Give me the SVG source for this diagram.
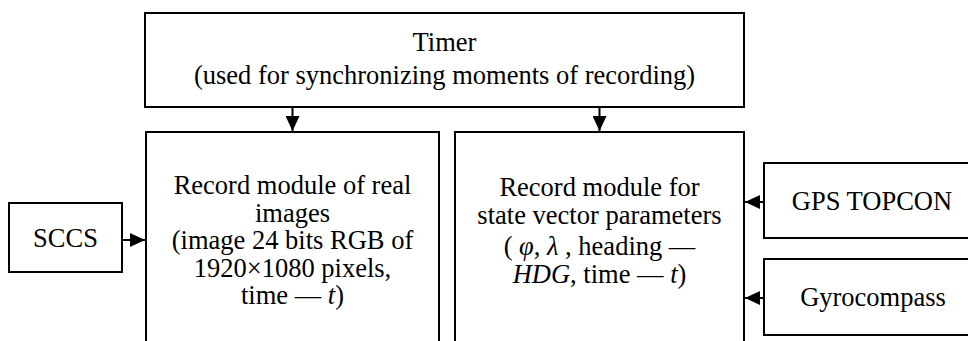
<svg xmlns="http://www.w3.org/2000/svg" width="968" height="341" viewBox="0 0 968 341">
<defs>
<style>
.box{fill:#fff;stroke:#000;stroke-width:2}
.t{font-family:"Liberation Serif","Times New Roman",serif;font-size:26.5px;fill:#000;text-anchor:middle}
.i{font-style:italic}
.ln{stroke:#000;stroke-width:2;fill:none}
</style>
<marker id="ah" viewBox="0 0 10 10" refX="10" refY="5" markerWidth="15" markerHeight="14" markerUnits="userSpaceOnUse" orient="auto" preserveAspectRatio="none">
<path d="M0,0 L10,5 L0,10 Z" fill="#000"/>
</marker>
</defs>
<rect width="968" height="341" fill="#fff"/>
<g id="timer">
<rect class="box" x="145" y="13" width="599" height="94"/>
<text class="t" x="444.5" y="51">Timer</text>
<text class="t" x="444.5" y="84">(used for synchronizing moments of recording)</text>
</g>
<g id="record-images">
<rect class="box" x="146" y="132" width="293" height="230"/>
<text class="t" x="292.5" y="194">Record module of real</text>
<text class="t" x="292.5" y="221.5">images</text>
<text class="t" x="292.5" y="249">(image 24 bits RGB of</text>
<text class="t" x="292.5" y="276.5">1920×1080 pixels,</text>
<text class="t" x="292.5" y="304">time — <tspan class="i">t</tspan>)</text>
</g>
<g id="record-state">
<rect class="box" x="455" y="132" width="289" height="230"/>
<text class="t" x="599.5" y="196">Record module for</text>
<text class="t" x="599.5" y="224">state vector parameters</text>
<text class="t" x="599.5" y="255">( <tspan class="i">φ</tspan>, <tspan class="i">λ</tspan> , heading —</text>
<text class="t" x="599.5" y="283"><tspan class="i">HDG</tspan>, time — <tspan class="i">t</tspan>)</text>
</g>
<g id="sccs">
<rect class="box" x="9" y="203" width="113" height="69"/>
<text class="t" x="65.5" y="247">SCCS</text>
</g>
<g id="gps">
<rect class="box" x="764" y="163" width="216" height="75"/>
<text class="t" x="872" y="210">GPS TOPCON</text>
</g>
<g id="gyro">
<rect class="box" x="764" y="259" width="216" height="76"/>
<text class="t" x="873" y="306">Gyrocompass</text>
</g>
<g id="connectors">
<line class="ln" x1="292.5" y1="107" x2="292.5" y2="131" marker-end="url(#ah)"/>
<line class="ln" x1="599.5" y1="107" x2="599.5" y2="131" marker-end="url(#ah)"/>
<line class="ln" x1="122" y1="240" x2="145" y2="240" marker-end="url(#ah)"/>
<line class="ln" x1="764" y1="202" x2="745" y2="202" marker-end="url(#ah)"/>
<line class="ln" x1="764" y1="298" x2="745" y2="298" marker-end="url(#ah)"/>
</g>
</svg>
